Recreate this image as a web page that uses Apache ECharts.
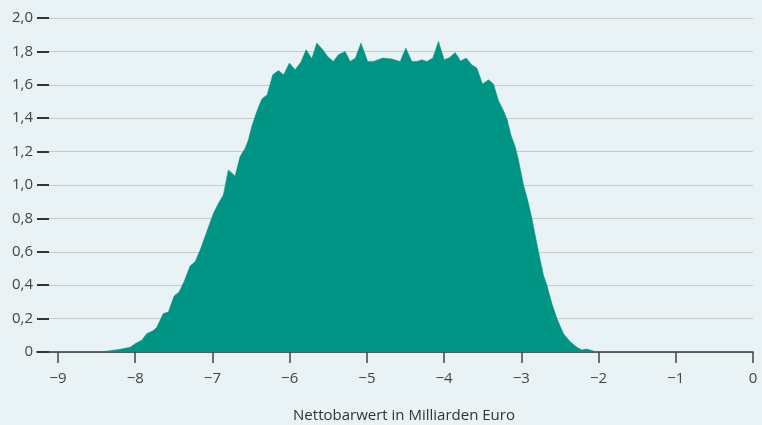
<!DOCTYPE html>
<html>
<head>
<meta charset="utf-8">
<script src="https://cdn.jsdelivr.net/npm/echarts@6/dist/echarts.min.js"></script>
<style>
  html, body { margin: 0; padding: 0; background: #e9f2f4; }
  #chart { width: 762px; height: 425px; }
</style>
</head>
<body>
<div id="chart"></div>
<script>
// Net present value (billion euro) and density values
const npvValues = [
  -9.1, -8.456, -8.326, -8.197, -8.067, -8.002, -7.916, -7.851, -7.765, -7.721,
  -7.636, -7.571, -7.497, -7.432, -7.368, -7.290, -7.225, -7.160, -7.074, -6.988,
  -6.923, -6.859, -6.794, -6.707, -6.642, -6.577, -6.535, -6.491, -6.426, -6.361,
  -6.292, -6.219, -6.146, -6.079, -6.003, -5.930, -5.856, -5.787, -5.713, -5.649,
  -5.571, -5.509, -5.434, -5.369, -5.282, -5.217, -5.148, -5.077, -4.990, -4.915,
  -4.794, -4.677, -4.569, -4.496, -4.418, -4.353, -4.288, -4.223, -4.146, -4.073,
  -3.999, -3.928, -3.857, -3.786, -3.714, -3.643, -3.576, -3.503, -3.425, -3.361,
  -3.296, -3.231, -3.183, -3.135, -3.080, -3.037, -2.972, -2.924, -2.863, -2.778,
  -2.713, -2.669, -2.604, -2.539, -2.454, -2.367, -2.280, -2.215, -2.160, -2.108,
  -2.043, -2.000, 0
];
const densityValues = [
  0, 0, 0.008, 0.016, 0.028, 0.05, 0.07, 0.11, 0.128, 0.148,
  0.23, 0.24, 0.335, 0.36, 0.42, 0.515, 0.54, 0.61, 0.72, 0.83,
  0.89, 0.94, 1.09, 1.054, 1.17, 1.22, 1.27, 1.35, 1.44, 1.515,
  1.54, 1.66, 1.685, 1.66, 1.73, 1.69, 1.735, 1.81, 1.757, 1.85,
  1.81, 1.77, 1.74, 1.78, 1.80, 1.74, 1.76, 1.85, 1.74, 1.74,
  1.76, 1.755, 1.74, 1.82, 1.74, 1.74, 1.75, 1.74, 1.76, 1.86,
  1.75, 1.763, 1.793, 1.742, 1.76, 1.72, 1.70, 1.605, 1.63, 1.605,
  1.505, 1.445, 1.39, 1.30, 1.23, 1.15, 1.00, 0.92, 0.80, 0.60,
  0.46, 0.40, 0.29, 0.20, 0.11, 0.062, 0.028, 0.012, 0.018, 0.012,
  0.003, 0, 0
];
const xTickValues = [-9, -8, -7, -6, -5, -4, -3, -2, -1, 0];
const axisTitle = 'Nettobarwert in Milliarden Euro';

const seriesData = npvValues.map((x, i) => [x, densityValues[i]]);
const FONT = 'Open Sans';
const TEAL = '#009485';

const chart = echarts.init(document.getElementById('chart'), null, { renderer: 'canvas' });
chart.setOption({
  backgroundColor: '#e9f2f4',
  animation: false,
  grid: { left: 37, right: 9, top: 18, bottom: 73, containLabel: false },
  xAxis: {
    type: 'value',
    min: -9.272,
    max: 0,
    splitLine: { show: false },
    axisLine: { show: true, onZero: false, lineStyle: { color: '#333', width: 1.5 } },
    axisTick: { show: true, customValues: xTickValues, length: 11, lineStyle: { color: '#444', width: 1.5 } },
    axisLabel: {
      customValues: xTickValues,
      margin: 19,
      color: '#444',
      fontFamily: FONT,
      fontSize: 15,
      formatter: v => String(Math.round(v)).replace('-', '\u2212')
    }
  },
  yAxis: {
    type: 'value',
    position: 'left',
    min: 0,
    max: 2,
    interval: 0.2,
    axisLine: { show: false, onZero: false },
    axisTick: { show: true, inside: true, length: 12, lineStyle: { color: '#333', width: 2 } },
    splitLine: { show: true, lineStyle: { color: '#c6cacc', width: 1 } },
    axisLabel: {
      margin: 4,
      color: '#444',
      fontFamily: FONT,
      fontSize: 15,
      formatter: v => (Math.abs(v) < 1e-9 ? '0' : v.toFixed(1).replace('.', ','))
    }
  },
  graphic: [{
    type: 'text',
    style: {
      text: axisTitle,
      x: 404,
      y: 416,
      align: 'center',
      verticalAlign: 'middle',
      fill: '#333',
      fontFamily: FONT,
      fontSize: 15
    }
  }],
  series: [{
    type: 'line',
    data: seriesData,
    showSymbol: false,
    symbol: 'none',
    smooth: false,
    lineStyle: { width: 0.5, color: TEAL },
    areaStyle: { color: TEAL, opacity: 1 },
    z: 1
  }]
});
</script>
</body>
</html>
